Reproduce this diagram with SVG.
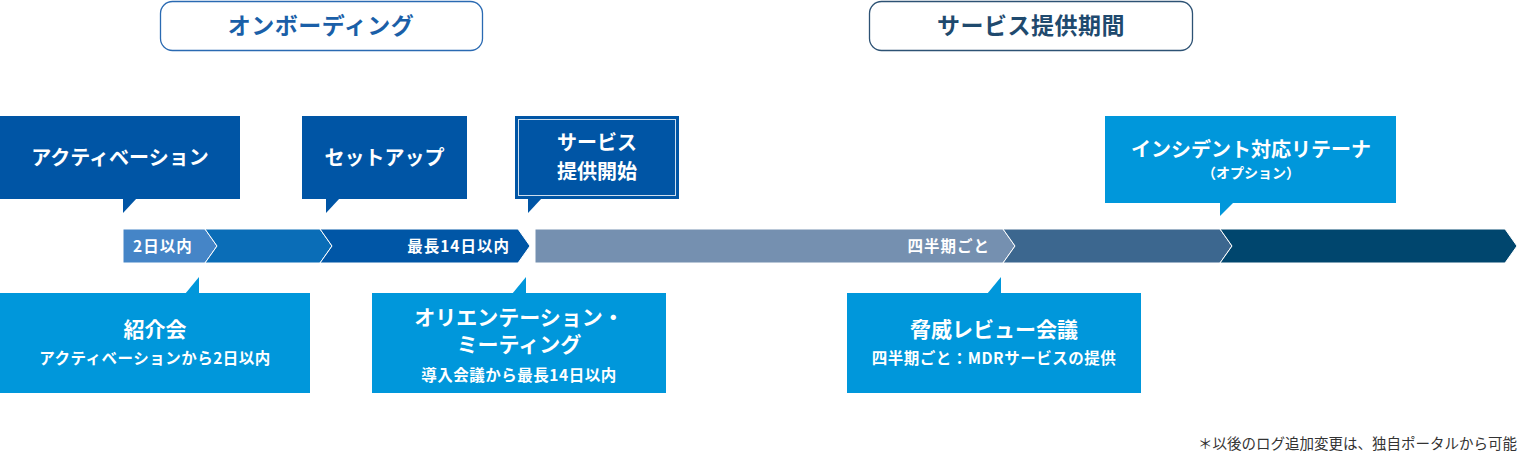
<svg xmlns="http://www.w3.org/2000/svg" width="1520" height="452" viewBox="0 0 1520 452">
<style>
text{font-family:"Noto Sans CJK JP","Noto Sans",sans-serif;font-weight:700;fill:#fff;text-anchor:middle}
.hdr{fill:#fff;stroke-width:1.3}
.dark{fill:#0055a5}
.light{fill:#0097db}
.t20{font-size:20px}
.t21{font-size:21px}
.t16{font-size:15.5px;letter-spacing:0.5px}
.bar{font-size:15.5px;letter-spacing:1px}
.seg{stroke:#fff;stroke-width:1}
</style>
<rect width="1520" height="452" fill="#fff"/>
<g id="header-onboarding">
<rect class="hdr" x="160.5" y="1.5" width="322" height="49" rx="12" stroke="#2a6ab2"/>
<text x="321" y="34" style="font-size:23px;fill:#1a5fa8;letter-spacing:0.5px">オンボーディング</text>
</g>
<g id="header-service">
<rect class="hdr" x="869.5" y="1.5" width="323" height="49" rx="12" stroke="#2d5274"/>
<text x="1031" y="34" style="font-size:23px;fill:#1f4a6e;letter-spacing:0.5px">サービス提供期間</text>
</g>
<g id="timeline">
<polygon class="seg" fill="#4585c7" points="123,229 205,229 217,246 205,263 123,263"/>
<polygon class="seg" fill="#0a6db7" points="205,229 320,229 332,246 320,263 205,263 217,246"/>
<polygon class="seg" fill="#0056a6" points="320,229 518,229 530,246 518,263 320,263 332,246"/>
<polygon class="seg" fill="#7590b0" points="535,229 1003,229 1015,246 1003,263 535,263"/>
<polygon class="seg" fill="#3c678f" points="1003,229 1220,229 1232,246 1220,263 1003,263 1015,246"/>
<polygon class="seg" fill="#00466e" points="1220,229 1505,229 1517,246 1505,263 1220,263 1232,246"/>
<text class="bar" x="133" y="252" style="text-anchor:start">2日以内</text>
<text class="bar" x="510" y="252" style="text-anchor:end">最長14日以内</text>
<text class="bar" x="990" y="252" style="text-anchor:end">四半期ごと</text>
</g>
<g id="activation">
<rect class="dark" x="0" y="116" width="240" height="83"/>
<polygon class="dark" points="123,198 123,213 137,198"/>
<text class="t20" x="120" y="165">アクティベーション</text>
</g>
<g id="setup">
<rect class="dark" x="302" y="116" width="165" height="83"/>
<polygon class="dark" points="326,198 326,213 340,198"/>
<text class="t20" x="384.5" y="165">セットアップ</text>
</g>
<g id="service-start">
<rect class="dark" x="515" y="116" width="164" height="83"/>
<rect x="518.5" y="119.5" width="157" height="76" fill="none" stroke="#fff" stroke-width="1" opacity="0.8"/>
<polygon class="dark" points="528,198 528,213 542,198"/>
<text class="t20" x="597" y="150">サービス</text>
<text class="t20" x="597" y="179">提供開始</text>
</g>
<g id="retainer">
<rect class="light" x="1105" y="116" width="291" height="87"/>
<polygon class="light" points="1220,202 1220,216 1234,202"/>
<text class="t20" x="1251" y="157">インシデント対応リテーナ</text>
<text x="1251" y="178" style="font-size:14px">（オプション）</text>
</g>
<g id="intro-meeting">
<rect class="light" x="0" y="293" width="310" height="100"/>
<polygon class="light" points="199,294 199,277 185,294"/>
<text class="t21" x="155" y="337">紹介会</text>
<text class="t16" x="155" y="364">アクティベーションから2日以内</text>
</g>
<g id="orientation">
<rect class="light" x="372" y="293" width="294" height="100"/>
<polygon class="light" points="526,294 526,277 512,294"/>
<text class="t21" x="519" y="325">オリエンテーション・</text>
<text class="t21" x="519" y="352">ミーティング</text>
<text class="t16" x="519" y="381">導入会議から最長14日以内</text>
</g>
<g id="threat-review">
<rect class="light" x="847" y="293" width="294" height="100"/>
<polygon class="light" points="1001,294 1001,277 987,294"/>
<text class="t21" x="994" y="337">脅威レビュー会議</text>
<text class="t16" x="994" y="364">四半期ごと：MDRサービスの提供</text>
</g>
<g id="connectors"></g>
<text x="1517" y="449" style="font-size:14.5px;font-weight:400;fill:#333;text-anchor:end">＊以後のログ追加変更は、独自ポータルから可能</text>
</svg>
